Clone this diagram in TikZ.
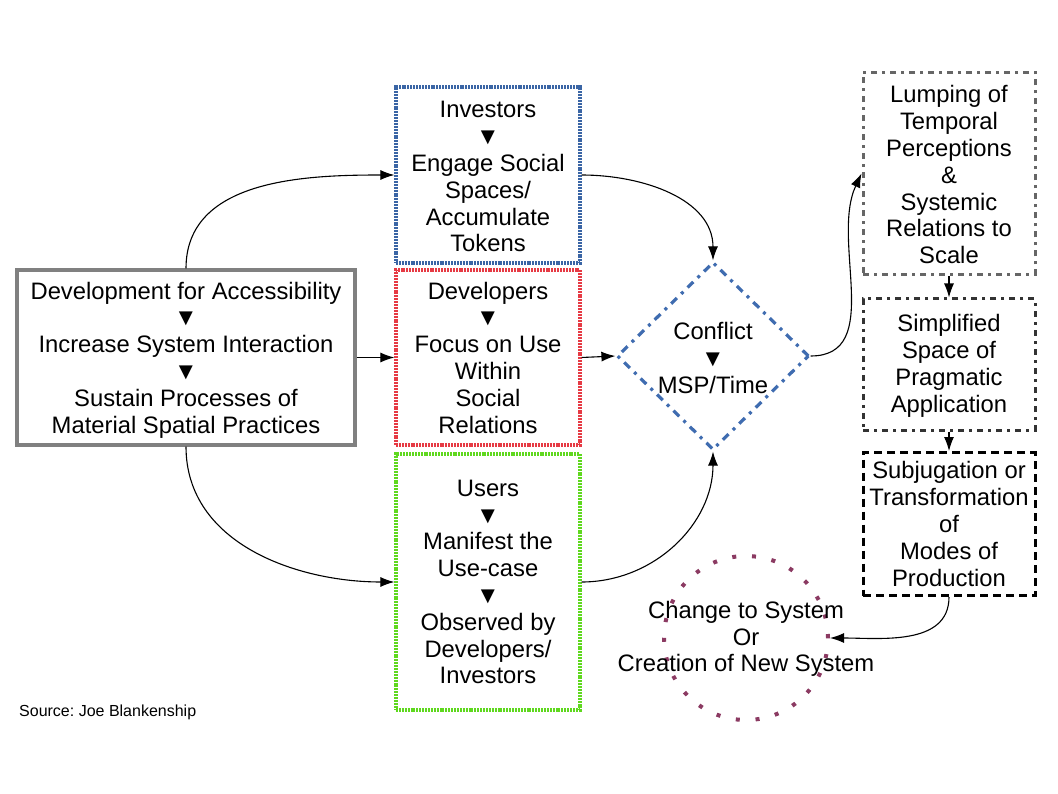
\documentclass[tikz,border=0pt]{standalone}
\usepackage{fontspec}
\setmainfont{Liberation Sans}
\usetikzlibrary{shapes.geometric,arrows.meta}
\definecolor{invblue}{HTML}{3A65A5}
\definecolor{devred}{HTML}{E63A44}
\definecolor{usergreen}{HTML}{5FD81E}
\definecolor{diamblue}{HTML}{3F6CB0}
\definecolor{boxgray}{HTML}{808080}
\definecolor{lumpgray}{HTML}{666666}
\definecolor{simpgray}{HTML}{333333}
\definecolor{circpurple}{HTML}{8B3A62}
\frenchspacing
\tikzset{
  txt/.style={align=center, font=\fontsize{23.8}{26.8}\selectfont, inner sep=0pt},
  mainbox/.style={txt, draw=boxgray, line width=3.2pt},
  finebox/.style={txt, draw, line width=3.2pt, dash pattern=on 2pt off 0.9pt},
  lumpbox/.style={txt, draw=lumpgray, line width=3pt, dash pattern=on 6pt off 5pt on 3pt off 5pt},
  simpbox/.style={txt, draw=simpgray, line width=3pt, dash pattern=on 6pt off 5pt on 3pt off 5pt},
  subjbox/.style={txt, draw=black, line width=3pt, dash pattern=on 8pt off 5pt},
  diam/.style={diamond, draw=diamblue, line width=3.2pt, inner sep=0pt, dash pattern=on 8pt off 6pt on 3pt off 6pt},
  circ/.style={circle, draw=circpurple, line width=4pt, inner sep=0pt, dash pattern=on 4pt off 15.8pt},
  conn/.style={draw=black, line width=1.1pt, -{Latex[length=14pt,width=10pt]}}
}
\begin{document}
\begin{tikzpicture}[x=1pt,y=-1pt]
\fill[white] (0,0) rectangle (1058,794);
\path[use as bounding box] (0,0) rectangle (1058,794);

\node[mainbox, minimum width=338pt, minimum height=175pt] (L) at (186,357.5)
  {\rule{0pt}{22pt}Development for Accessibility\\▼\\Increase System Interaction\\▼\\Sustain Processes of\\Material Spatial Practices};

\node[finebox, draw=invblue, minimum width=184pt, minimum height=176pt] (inv) at (488,175)
  {\rule{0pt}{20pt}Investors\\▼\\Engage Social\\Spaces/\\Accumulate\\Tokens};
\node[finebox, draw=devred, minimum width=184pt, minimum height=175pt] (dev) at (488,357.5)
  {Developers\\▼\\Focus on Use\\Within\\Social\\Relations};
\node[finebox, draw=usergreen, minimum width=184pt, minimum height=256pt] (usr) at (488,582)
  {Users\\▼\\Manifest the\\Use-case\\▼\\Observed by\\Developers/\\Investors};

\node[diam, minimum width=192pt, minimum height=188pt,
  label={[txt, yshift=-2pt]center:Conflict\\▼\\MSP/Time}] (conf) at (713,356) {};

\node[lumpbox, minimum width=172pt, minimum height=202pt] (lump) at (949,173.5)
  {\rule{0pt}{20pt}Lumping of\\Temporal\\Perceptions\\\&\\Systemic\\Relations to\\Scale};
\node[simpbox, minimum width=172pt, minimum height=131pt] (simp) at (949,364.5)
  {\rule{0pt}{20pt}Simplified\\Space of\\Pragmatic\\Application};
\node[subjbox, minimum width=172pt, minimum height=143pt] (subj) at (949,524)
  {Subjugation or\\Transformation\\of\\Modes of\\Production};

\node[circ, minimum size=164pt,
  label={[txt, yshift=-1pt]center:Change to System\\Or\\Creation of New System}] (chg) at (746,638) {};

\node[anchor=west, font=\fontsize{16}{19}\selectfont, inner sep=0pt] (src) at (19,712) {Source: Joe Blankenship};

\draw[conn] (L.north) to[out=90,in=180] (inv.west);
\draw[conn] (L.east) -- (dev.west);
\draw[conn] (L.south) to[out=-90,in=180] (usr.west);
\draw[conn] (inv.east) to[out=0,in=90] (conf.north);
\draw[conn] (dev.east) -- (conf.west);
\draw[conn] (usr.east) to[out=0,in=-90] (conf.south);
\draw[conn] (conf.east) to[out=0,in=245] (lump.west);
\draw[conn] (lump.south) -- (simp.north);
\draw[conn] (simp.south) -- (subj.north);
\draw[conn] (subj.south) to[out=-90,in=0] (chg.east);
\end{tikzpicture}
\end{document}
